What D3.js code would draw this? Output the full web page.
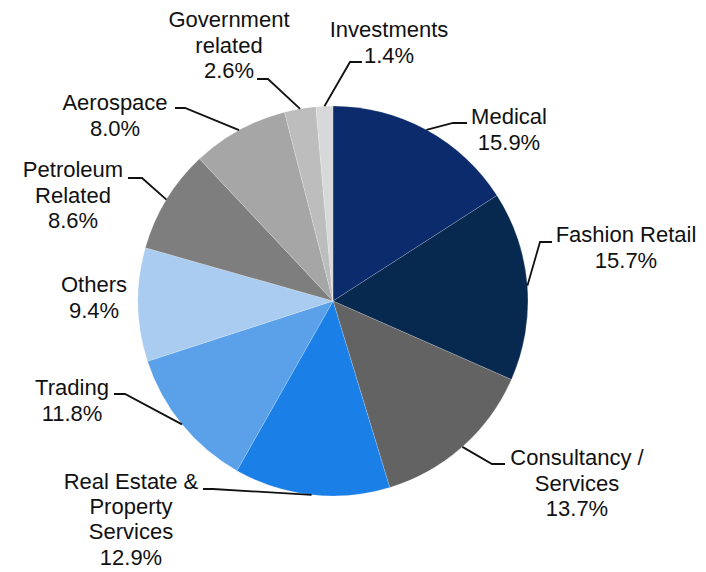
<!DOCTYPE html>
<html>
<head>
<meta charset="utf-8">
<script src="https://cdn.jsdelivr.net/npm/d3@7"></script>
<style>
  html, body { margin: 0; padding: 0; background: #ffffff; }
  svg { display: block; }
  text { font-family: "Liberation Sans", Arial, sans-serif; font-size: 22px; fill: #111111; }
</style>
</head>
<body>
<svg id="chart" width="706" height="572"></svg>
<script>
// Sector breakdown, clockwise from 12 o'clock (percent of total)
const categories = [
  "Medical",
  "Fashion Retail",
  "Consultancy /\nServices",
  "Real Estate &\nProperty\nServices",
  "Trading",
  "Others",
  "Petroleum\nRelated",
  "Aerospace",
  "Government\nrelated",
  "Investments"
];
const values = [15.9, 15.7, 13.7, 12.9, 11.8, 9.4, 8.6, 8.0, 2.6, 1.4];

// Slice fills
const palette = [
  "#0b2b6c", "#07284f", "#636363", "#1a7fe6", "#5aa1ea",
  "#a9ccf0", "#7e7e7e", "#a6a6a6", "#bdbdbd", "#d8d8da"
];

// Label placement: text centre, first baseline, line gap, and leader start / elbow (null = no leader)
const labelLayout = [
  { x: 509, y: 124, gap: 25.7, lead: [[467, 123], [453, 123]] },
  { x: 626, y: 242, gap: 25.7, lead: [[552, 242], [540, 242]] },
  { x: 577, y: 465, gap: 25.7, lead: [[505, 464], [492, 464]] },
  { x: 131, y: 489, gap: 25.2, lead: [[203, 489], [213, 489]] },
  { x: 72,  y: 395, gap: 25.7, lead: [[114, 394], [125, 394]] },
  { x: 94,  y: 292, gap: 25.7, lead: null },
  { x: 73,  y: 177, gap: 25.7, lead: [[128, 178], [142, 178]] },
  { x: 115, y: 110, gap: 25.7, lead: [[175, 108], [185, 108]] },
  { x: 229, y: 27,  gap: 25.7, lead: [[257, 79], [268, 79]] },
  { x: 389, y: 37,  gap: 25.7, lead: [[362, 62], [350, 62]] }
];

const cx = 333, cy = 301, radius = 195;

const svg = d3.select("#chart");
const g = svg.append("g").attr("transform", `translate(${cx},${cy})`);

const data = categories.map((c, i) => ({ name: c, value: values[i], color: palette[i], layout: labelLayout[i] }));

const pie = d3.pie().sort(null).value(d => d.value);
const arc = d3.arc().innerRadius(0).outerRadius(radius);
const arcs = pie(data);

g.selectAll("path.slice")
  .data(arcs)
  .join("path")
  .attr("class", "slice")
  .attr("d", arc)
  .attr("fill", d => d.data.color)
  .attr("stroke", "rgba(255,255,255,0.3)")
  .attr("stroke-width", 0.6);

// Leader lines: horizontal stub from the label, then to the slice's mid-angle on the rim
const rim = d => {
  const a = (d.startAngle + d.endAngle) / 2;
  return [cx + radius * Math.sin(a), cy - radius * Math.cos(a)];
};

svg.selectAll("polyline.leader")
  .data(arcs.filter(d => d.data.layout.lead))
  .join("polyline")
  .attr("class", "leader")
  .attr("points", d => [...d.data.layout.lead, rim(d)].map(p => p.join(",")).join(" "))
  .attr("fill", "none")
  .attr("stroke", "#111111")
  .attr("stroke-width", 1.8);

// Category and percentage labels
const labels = svg.selectAll("text.label")
  .data(arcs)
  .join("text")
  .attr("class", "label")
  .attr("text-anchor", "middle")
  .attr("x", d => d.data.layout.x)
  .attr("y", d => d.data.layout.y);

labels.each(function(d) {
  const L = d.data.layout;
  const lines = d.data.name.split("\n").concat([d.data.value.toFixed(1) + "%"]);
  const t = d3.select(this);
  lines.forEach((ln, i) => {
    t.append("tspan")
      .attr("x", L.x)
      .attr("y", L.y + i * L.gap)
      .text(ln);
  });
});
</script>
</body>
</html>
